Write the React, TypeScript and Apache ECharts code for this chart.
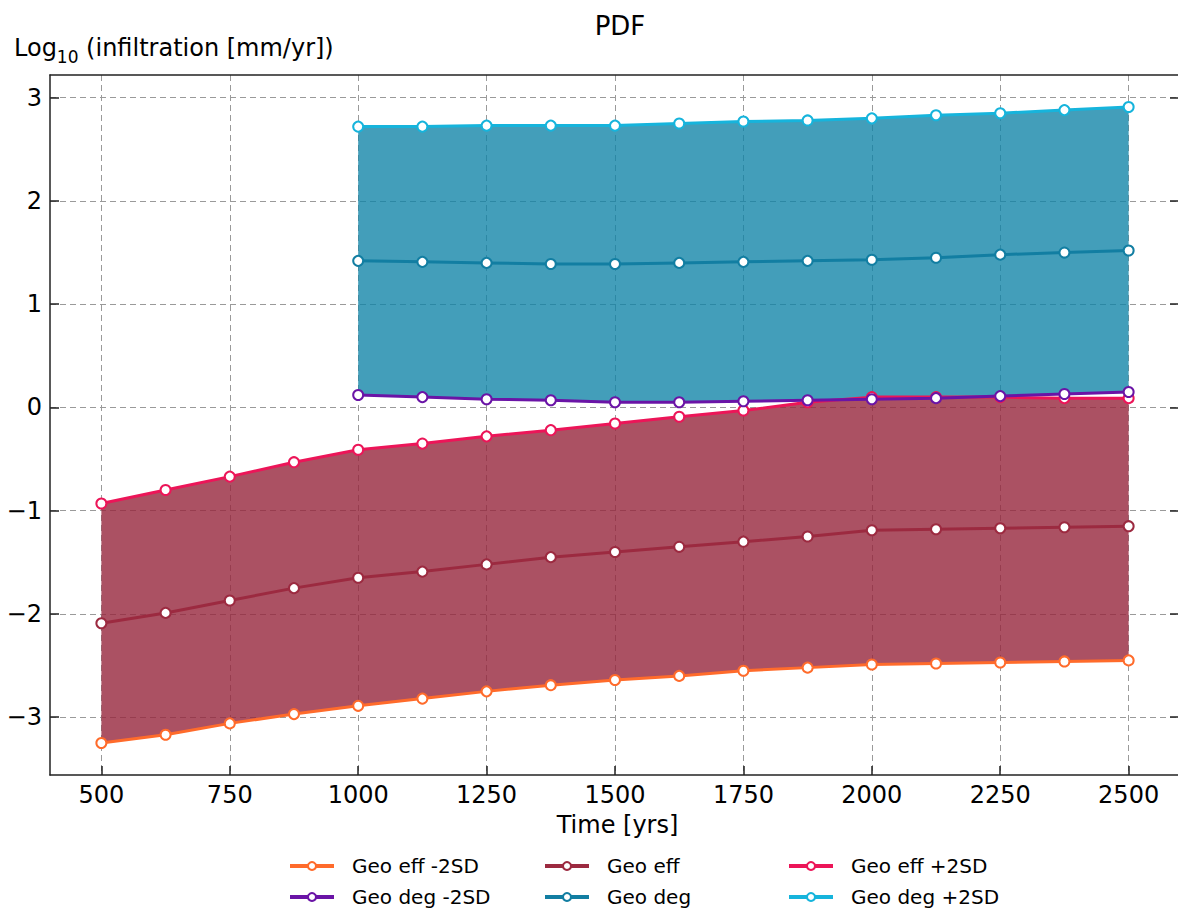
import React, { useEffect, useRef } from "react";
import * as echarts from "echarts";

const xEff = [500, 625, 750, 875, 1000, 1125, 1250, 1375, 1500, 1625, 1750, 1875, 2000, 2125, 2250, 2375, 2500];
const effMinus = [-3.25, -3.17, -3.06, -2.97, -2.89, -2.82, -2.75, -2.69, -2.64, -2.6, -2.55, -2.52, -2.49, -2.48, -2.47, -2.46, -2.45];
const effMean = [-2.09, -1.99, -1.87, -1.75, -1.65, -1.59, -1.52, -1.45, -1.4, -1.35, -1.3, -1.25, -1.19, -1.18, -1.17, -1.16, -1.15];
const effPlus = [-0.93, -0.8, -0.67, -0.53, -0.41, -0.35, -0.28, -0.22, -0.155, -0.09, -0.03, 0.05, 0.1, 0.1, 0.1, 0.09, 0.09];

const xDeg = [1000, 1125, 1250, 1375, 1500, 1625, 1750, 1875, 2000, 2125, 2250, 2375, 2500];
const degMinus = [0.12, 0.1, 0.08, 0.07, 0.05, 0.05, 0.06, 0.07, 0.08, 0.09, 0.11, 0.13, 0.15];
const degMean = [1.42, 1.41, 1.4, 1.39, 1.39, 1.4, 1.41, 1.42, 1.43, 1.45, 1.48, 1.5, 1.52];
const degPlus = [2.72, 2.72, 2.73, 2.73, 2.73, 2.75, 2.77, 2.78, 2.8, 2.83, 2.85, 2.88, 2.91];

const xTicks = [500, 750, 1000, 1250, 1500, 1750, 2000, 2250, 2500];
const yTicks = [-3, -2, -1, 0, 1, 2, 3];

const FONT = "DejaVu Sans";

function bandRender(xs: number[], lo: number[], hi: number[], color: string) {
  return (params: any, api: any) => {
    if (params.dataIndex !== 0) return { type: "group", children: [] };
    const top = xs.map((x, i) => api.coord([x, hi[i]]));
    const bot = xs.map((x, i) => api.coord([x, lo[i]])).reverse();
    return {
      type: "polygon",
      shape: { points: [...top, ...bot] },
      style: { fill: color },
    };
  };
}

function lineSeries(name: string, xs: number[], ys: number[], color: string) {
  return {
    name,
    type: "line",
    data: xs.map((x, i) => [x, ys[i]]),
    symbol: "circle",
    symbolSize: 10,
    lineStyle: { color, width: 3 },
    itemStyle: { color: "#ffffff", borderColor: color, borderWidth: 2 },
    emphasis: { disabled: true },
  };
}

const names = ["Geo eff -2SD", "Geo eff", "Geo eff +2SD", "Geo deg -2SD", "Geo deg", "Geo deg +2SD"];
const colors = ["#ff6b2b", "#9c2a40", "#ec1558", "#6a14a6", "#127ea2", "#16b4dc"];

export default function App() {
  const ref = useRef<HTMLDivElement>(null);
  useEffect(() => {
    const chart = echarts.init(ref.current!, null, { renderer: "svg" });
    const legendPos = [
      [288, 856], [543, 856], [787, 856],
      [288, 887], [543, 887], [787, 887],
    ];
    const gridLine = {
      show: true,
      lineStyle: { color: "#9a9a9a", type: [6, 4], width: 1 },
    };
    const option: any = {
      animation: false,
      title: {
        text: "PDF",
        left: 615,
        top: 8,
        textAlign: "center",
        textStyle: { fontFamily: FONT, fontSize: 26, fontWeight: "normal", color: "#000" },
      },
      graphic: [
        {
          type: "text",
          left: 14,
          top: 36,
          style: {
            text: "{a|Log}{b|10}{a| (infiltration [mm/yr])}",
            rich: {
              a: { fontFamily: FONT, fontSize: 24, fill: "#000", verticalAlign: "bottom" },
              b: { fontFamily: FONT, fontSize: 17, fill: "#000", verticalAlign: "bottom", padding: [0, 0, -5, 0] },
            },
          },
        },
      ],
      legend: names.map((n, i) => ({
        data: [n],
        left: legendPos[i][0],
        top: legendPos[i][1],
        padding: 0,
        itemWidth: 44,
        itemHeight: 10,
        selectedMode: false,
        lineStyle: { width: 4 },
        itemStyle: { borderWidth: 2 },
        textStyle: { fontFamily: FONT, fontSize: 20, color: "#000", padding: [0, 0, 0, 13] },
      })),
      grid: { left: 50, top: 75, right: -2, bottom: 136, outerBoundsMode: "none", containLabel: false },
      xAxis: [
        {
          type: "value",
          min: 400,
          max: 2600,
          name: "Time [yrs]",
          nameLocation: "middle",
          nameGap: 38,
          nameTextStyle: { fontFamily: FONT, fontSize: 24, color: "#000", verticalAlign: "top", padding: [0, 0, 0, 5] },
          axisLine: { show: true, onZero: false, lineStyle: { color: "#222", width: 1.5 } },
          axisTick: { show: true, inside: true, length: 9, customValues: xTicks, lineStyle: { color: "#222", width: 1.5 } },
          axisLabel: {
            customValues: xTicks,
            margin: 8,
            fontFamily: FONT,
            fontSize: 24,
            color: "#000",
            formatter: (v: number) => String(v),
          },
          splitLine: gridLine,
        },
        {
          type: "value",
          position: "top",
          min: 400,
          max: 2600,
          axisLine: { show: true, onZero: false, lineStyle: { color: "#222", width: 1.5 } },
          axisTick: { show: false },
          axisLabel: { show: false },
          splitLine: { show: false },
        },
      ],
      yAxis: [
        {
          type: "value",
          min: -3.56,
          max: 3.22,
          axisLine: { show: true, onZero: false, lineStyle: { color: "#222", width: 1.5 } },
          axisTick: { show: true, inside: true, length: 9, customValues: yTicks, lineStyle: { color: "#222", width: 1.5 } },
          axisLabel: {
            customValues: yTicks,
            margin: 8,
            fontFamily: FONT,
            fontSize: 24,
            color: "#000",
            formatter: (v: number) => (v < 0 ? "\u2212" + Math.abs(v) : String(v)),
          },
          splitLine: gridLine,
        },
        {
          type: "value",
          position: "right",
          min: -3.56,
          max: 3.22,
          axisLine: { show: false },
          axisTick: { show: true, inside: true, length: 10, customValues: yTicks, lineStyle: { color: "#222", width: 1.5 } },
          axisLabel: { show: false },
          splitLine: { show: false },
        },
      ],
      series: [
        {
          type: "custom",
          name: "effBand",
          data: xEff.map((x, i) => [x, effMinus[i], effPlus[i]]),
          encode: { x: 0, y: [1, 2] },
          renderItem: bandRender(xEff, effMinus, effPlus, "rgba(150,38,60,0.8)"),
          silent: true,
        },
        {
          type: "custom",
          name: "degBand",
          data: xDeg.map((x, i) => [x, degMinus[i], degPlus[i]]),
          encode: { x: 0, y: [1, 2] },
          renderItem: bandRender(xDeg, degMinus, degPlus, "rgba(14,131,166,0.78)"),
          silent: true,
        },
        lineSeries(names[0], xEff, effMinus, colors[0]),
        lineSeries(names[1], xEff, effMean, colors[1]),
        lineSeries(names[2], xEff, effPlus, colors[2]),
        lineSeries(names[3], xDeg, degMinus, colors[3]),
        lineSeries(names[4], xDeg, degMean, colors[4]),
        lineSeries(names[5], xDeg, degPlus, colors[5]),
      ],
    };
    chart.setOption(option);
    return () => chart.dispose();
  }, []);
  return (
    <div
      ref={ref}
      style={{ position: "fixed", left: 0, top: 0, width: 1178, height: 911, background: "#fff" }}
    />
  );
}
